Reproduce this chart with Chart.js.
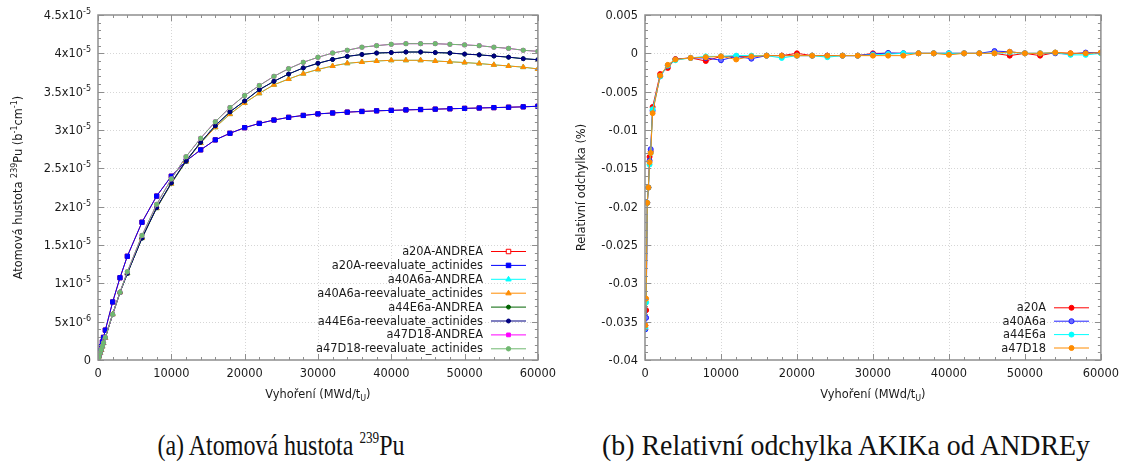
<!DOCTYPE html>
<html>
<head>
<meta charset="utf-8">
<script src="https://cdn.jsdelivr.net/npm/chart.js@4.4.0/dist/chart.umd.min.js"></script>
<style>
  html, body { margin: 0; padding: 0; background: #fff; }
  body { width: 1126px; height: 463px; position: relative; overflow: hidden; }
  .panel { position: absolute; top: 0; width: 563px; height: 410px; }
  .caption { position: absolute; top: 428px; font-family: 'Liberation Serif', serif; font-size: 30px; color: #111; white-space: nowrap; transform: translateX(-50%); line-height: 34px; }
  .caption sup { font-size: 0.55em; vertical-align: 0.75em; line-height: 0; }
</style>
</head>
<body>
<div class="panel" style="left:0"><canvas id="densityChart" width="563" height="410"></canvas></div>
<div class="panel" style="left:563px"><canvas id="deviationChart" width="563" height="410"></canvas></div>
<div class="caption" style="left:281px" data-w="247">(a) Atomová hustota <sup>239</sup>Pu</div>
<div class="caption" style="left:846px" data-w="488">(b) Relativní odchylka AKIKa od ANDREy</div>
<script>
// burnup points (MWd/tU)
const burnupDensity = [0, 50, 150, 300, 450, 600, 750, 1000, 2000, 3000, 4000,
  6000, 8000, 10000, 12000, 14000, 16000, 18000, 20000, 22000, 24000, 26000, 28000, 30000,
  32000, 34000, 36000, 38000, 40000, 42000, 44000, 46000, 48000, 50000, 52000, 54000,
  56000, 58000, 60000]
const burnupDeviation = [50, 150, 300, 450, 600, 750, 1000, 2000, 3000, 4000,
  6000, 8000, 10000, 12000, 14000, 16000, 18000, 20000, 22000, 24000, 26000, 28000, 30000,
  32000, 34000, 36000, 38000, 40000, 42000, 44000, 46000, 48000, 50000, 52000, 54000,
  56000, 58000, 60000]

// Pu-239 density, in units of 1e-5 b^-1 cm^-1
const a20A_reeval = [0, 0.02, 0.06, 0.12, 0.175, 0.235, 0.295, 0.39, 0.757, 1.073, 1.353,
  1.797, 2.138, 2.397, 2.595, 2.741, 2.871, 2.957, 3.03, 3.086, 3.13, 3.165, 3.19, 3.21,
  3.222, 3.233, 3.242, 3.25, 3.256, 3.262, 3.267, 3.272, 3.277, 3.282, 3.287, 3.292,
  3.297, 3.302, 3.31]
const a40A6a_reeval = [0, 0.015, 0.045, 0.09, 0.13, 0.175, 0.22, 0.29, 0.596, 0.883, 1.13,
  1.59, 1.98, 2.30, 2.59, 2.83, 3.035, 3.207, 3.353, 3.478, 3.59, 3.665, 3.735, 3.79,
  3.835, 3.87, 3.887, 3.90, 3.909, 3.909, 3.909, 3.90, 3.89, 3.88, 3.867, 3.85,
  3.835, 3.82, 3.796]
const a44E6a_reeval = [0, 0.015, 0.045, 0.09, 0.13, 0.175, 0.22, 0.29, 0.596, 0.88, 1.13,
  1.59, 1.987, 2.31, 2.595, 2.84, 3.056, 3.237, 3.379, 3.526, 3.635, 3.73, 3.81, 3.87,
  3.92, 3.96, 3.985, 4.004, 4.01, 4.017, 4.017, 4.01, 4.004, 3.99, 3.98, 3.965,
  3.95, 3.93, 3.917]
const a47D18_reeval = [0, 0.015, 0.045, 0.09, 0.135, 0.18, 0.225, 0.295, 0.596, 0.883, 1.151,
  1.625, 2.03, 2.362, 2.651, 2.892, 3.108, 3.293, 3.45, 3.58, 3.70, 3.80, 3.883, 3.948,
  4.004, 4.04, 4.08, 4.10, 4.118, 4.126, 4.126, 4.126, 4.118, 4.11, 4.10, 4.08,
  4.065, 4.04, 4.026]
// ANDREA curves lie under the reevaluated ones (difference < 0.04 %)
const a20A_andrea = a20A_reeval
const a40A6a_andrea = a40A6a_reeval
const a44E6a_andrea = a44E6a_reeval
const a47D18_andrea = a47D18_reeval

// relative deviation AKIKa vs ANDREA (%)
const dev_a20A = [-0.0355, -0.0335, -0.0195, -0.0175, -0.0135, -0.0128, -0.0070, -0.0027, -0.0019, -0.00075,
  -0.0006, -0.001, -0.0004, -0.0004, -0.0004, -0.0003, -0.0003, 0, -0.0003, -0.0003, -0.0003, -0.0003, 0,
  0, 0, 0, 0, 0, 0, 0, 0, -0.0003, 0, -0.0003, 0.0001, 0, 0, 0.0001]
const dev_a40A6a = [-0.0360, -0.0345, -0.0195, -0.0175, -0.0140, -0.0125, -0.0075, -0.0030, -0.0016, -0.0008,
  -0.0006, -0.0006, -0.0009, -0.0004, -0.0007, -0.0003, -0.0003, -0.0003, -0.0003, -0.0003, -0.0003, -0.0003, -0.0001,
  0.00005, 0, 0, 0, 0, 0, 0, 0.0003, 0.0002, 0, 0, 0, -0.0001, 0.0001, 0.0001]
const dev_a44E6a = [-0.0358, -0.0325, -0.0195, -0.0175, -0.0145, -0.0130, -0.0073, -0.0030, -0.0016, -0.0009,
  -0.0006, -0.0004, -0.0004, -0.0003, -0.0003, -0.0003, -0.0006, -0.0003, -0.0003, -0.0005, -0.0003, -0.0003, -0.0002,
  -0.0001, 0, 0, 0, 0, 0, 0, 0, 0.0001, 0, 0, 0.0001, -0.0002, -0.0002, 0]
const dev_a47D18 = [-0.0355, -0.0320, -0.0195, -0.0175, -0.0142, -0.0130, -0.0078, -0.0029, -0.0015, -0.0008,
  -0.0006, -0.0005, -0.0004, -0.0008, -0.0004, -0.0003, -0.0003, -0.0003, -0.0003, -0.0003, -0.0003, -0.0003, -0.0003,
  -0.0003, -0.0003, 0, 0, -0.0002, 0, 0, 0, 0.0002, 0, 0, 0.0001, 0, 0, 0.0001]

// ticks (^{..} marks a superscript)
const burnupTicks = [0, 10000, 20000, 30000, 40000, 50000, 60000]
const burnupTickLabels = ['0', '10000', '20000', '30000', '40000', '50000', '60000']
const densityTicks = [0, 0.5, 1, 1.5, 2, 2.5, 3, 3.5, 4, 4.5]
const densityTickLabels = ['0', '5x10^{-6}', '1x10^{-5}', '1.5x10^{-5}', '2x10^{-5}', '2.5x10^{-5}',
  '3x10^{-5}', '3.5x10^{-5}', '4x10^{-5}', '4.5x10^{-5}']
const deviationTicks = [-0.04, -0.035, -0.03, -0.025, -0.02, -0.015, -0.01, -0.005, 0, 0.005]
const deviationTickLabels = ['-0.04', '-0.035', '-0.03', '-0.025', '-0.02', '-0.015', '-0.01', '-0.005', '0', '0.005']

Chart.defaults.font.family = 'DejaVu Sans'
Chart.defaults.font.size = 11.4
Chart.defaults.color = '#1a1a1a'

const FONT = '11.4px "DejaVu Sans"'
const SMALL = '8px "DejaVu Sans"'
const FRAME = '#8e8e8e'

// y tick values/labels per canvas, read by the frame plugin
const yAxisInfo = {}

// split "a^{b}c_{d}" into plain / sup / sub runs
function parseRich(str) {
  const parts = []
  const re = /([\^_])\{([^}]*)\}/g
  let last = 0, m
  while ((m = re.exec(str))) {
    if (m.index > last) parts.push({ t: str.slice(last, m.index), k: '' })
    parts.push({ t: m[2], k: m[1] })
    last = re.lastIndex
  }
  if (last < str.length) parts.push({ t: str.slice(last), k: '' })
  return parts
}

function drawRich(ctx, str, x, y, align) {
  const parts = parseRich(str)
  let w = 0
  parts.forEach(p => { ctx.font = p.k ? SMALL : FONT; p.w = ctx.measureText(p.t).width; w += p.w })
  let cx = align === 'right' ? x - w : align === 'center' ? x - w / 2 : x
  ctx.textAlign = 'left'
  ctx.textBaseline = 'alphabetic'
  parts.forEach(p => {
    ctx.font = p.k ? SMALL : FONT
    const dy = p.k === '^' ? -5 : p.k === '_' ? 3 : 0
    ctx.fillText(p.t, cx, y + dy)
    cx += p.w
  })
}

// legend marker, same shape as the dataset's points
function drawMarker(ctx, ds, x, y) {
  const r = ds.pointRadius
  ctx.save()
  ctx.fillStyle = ds.pointBackgroundColor
  ctx.strokeStyle = ds.pointBorderColor
  ctx.lineWidth = 1
  ctx.beginPath()
  if (ds.pointStyle === 'rect') {
    const h = r * 0.75
    ctx.rect(x - h, y - h, 2 * h, 2 * h)
  } else if (ds.pointStyle === 'triangle') {
    ctx.moveTo(x, y - r)
    ctx.lineTo(x + r * 0.9, y + r * 0.55)
    ctx.lineTo(x - r * 0.9, y + r * 0.55)
    ctx.closePath()
  } else {
    ctx.arc(x, y, r, 0, Math.PI * 2)
  }
  ctx.fill()
  ctx.stroke()
  ctx.restore()
}

// gnuplot-like frame, inward tics, dotted grid, labels, titles and legend
const gnuplotFrame = {
  id: 'gnuplotFrame',
  beforeDatasetsDraw(chart, args, o) {
    const { ctx, chartArea: a, scales: { x, y } } = chart
    ctx.save()
    ctx.strokeStyle = '#d6d6d6'
    ctx.lineWidth = 1
    ctx.setLineDash([1, 2])
    ctx.beginPath()
    x.ticks.forEach(t => {
      const px = Math.round(x.getPixelForValue(t.value)) + 0.5
      if (px > a.left + 2 && px < a.right - 2) { ctx.moveTo(px, a.top); ctx.lineTo(px, a.bottom) }
    })
    y.ticks.forEach(t => {
      const py = Math.round(y.getPixelForValue(t.value)) + 0.5
      if (py > a.top + 2 && py < a.bottom - 2) { ctx.moveTo(a.left, py); ctx.lineTo(a.right, py) }
    })
    ctx.stroke()
    ctx.restore()
  },
  afterDraw(chart, args, o) {
    const { ctx, chartArea: a, scales: { x, y } } = chart
    const info = yAxisInfo[chart.canvas.id]
    ctx.save()
    ctx.strokeStyle = FRAME
    ctx.lineWidth = 1
    ctx.beginPath()
    const nx = Math.round((x.max - x.min) / info.xMinor)
    for (let i = 0; i <= nx; i++) {
      const px = Math.round(x.getPixelForValue(x.min + i * info.xMinor)) + 0.5
      const len = i % 5 === 0 ? 6 : 3
      ctx.moveTo(px, a.bottom); ctx.lineTo(px, a.bottom - len)
      ctx.moveTo(px, a.top); ctx.lineTo(px, a.top + len)
    }
    const ny = Math.round((y.max - y.min) / info.yMinor)
    for (let i = 0; i <= ny; i++) {
      const py = Math.round(y.getPixelForValue(y.min + i * info.yMinor)) + 0.5
      const len = i % 5 === 0 ? 6 : 3
      ctx.moveTo(a.left, py); ctx.lineTo(a.left + len, py)
      ctx.moveTo(a.right, py); ctx.lineTo(a.right - len, py)
    }
    ctx.stroke()
    ctx.lineWidth = 1.5
    ctx.strokeRect(a.left, a.top, a.right - a.left, a.bottom - a.top)

    ctx.fillStyle = '#1a1a1a'
    // y tick labels
    info.ticks.forEach((v, i) => {
      drawRich(ctx, info.labels[i], a.left - 7, y.getPixelForValue(v) + 4, 'right')
    })
    // axis titles
    drawRich(ctx, 'Vyhoření (MWd/t_{U})', (a.left + a.right) / 2, 398, 'center')
    ctx.save()
    ctx.translate(18, (a.top + a.bottom) / 2)
    ctx.rotate(-Math.PI / 2)
    drawRich(ctx, info.title, 0, 4, 'center')
    ctx.restore()

    // legend from the datasets themselves
    chart.data.datasets.forEach((ds, i) => {
      const ly = info.legendY + i * info.legendDy
      const lr = 483
      ctx.fillStyle = '#1a1a1a'
      drawRich(ctx, ds.label, lr, ly + 4, 'right')
      ctx.strokeStyle = ds.borderColor
      ctx.lineWidth = 1
      ctx.beginPath()
      ctx.moveTo(lr + 8, ly + 0.5)
      ctx.lineTo(lr + 43, ly + 0.5)
      ctx.stroke()
      drawMarker(ctx, ds, lr + 25.5, ly + 0.5)
    })
    ctx.restore()
  }
}

function makeChart(id, xs, series, info, yMin, yMax) {
  yAxisInfo[id] = Object.assign({ xMinor: 2000 }, info)
  const n = series.length
  const datasets = series.map((s, i) => ({
    label: s.label,
    data: xs.map((x, j) => ({ x: x, y: s.data[j] })),
    borderColor: s.color,
    backgroundColor: s.fill || s.color,
    pointBackgroundColor: s.fill || s.color,
    pointBorderColor: s.color,
    borderWidth: 1,
    pointBorderWidth: 1,
    pointStyle: s.style,
    pointRadius: s.r,
    tension: 0,
    order: n - i
  }))
  return new Chart(document.getElementById(id), {
    type: 'line',
    data: { datasets: datasets },
    options: {
      responsive: false,
      animation: false,
      layout: { padding: { left: 0, right: 22, top: 15, bottom: 0 } },
      plugins: {
        legend: { display: false },
        tooltip: { enabled: false }
      },
      scales: {
        x: {
          type: 'linear', min: 0, max: 60000,
          grid: { display: false, drawTicks: false },
          border: { display: false },
          afterBuildTicks: s => { s.ticks = burnupTicks.map(v => ({ value: v })) },
          afterFit: s => { s.height = 50 },
          ticks: { padding: 7, maxRotation: 0, autoSkip: false, callback: (v, i) => burnupTickLabels[i] }
        },
        y: {
          type: 'linear', min: yMin, max: yMax,
          grid: { display: false, drawTicks: false },
          border: { display: false },
          afterBuildTicks: s => { s.ticks = info.ticks.map(v => ({ value: v })) },
          afterFit: s => { s.width = info.axisWidth },
          ticks: { display: false }
        }
      }
    },
    plugins: [gnuplotFrame]
  })
}

makeChart('densityChart', burnupDensity, [
  { label: 'a20A-ANDREA', data: a20A_andrea, color: '#ff0000', fill: '#ffffff', style: 'rect', r: 3 },
  { label: 'a20A-reevaluate_actinides', data: a20A_reeval, color: '#0000ff', style: 'rect', r: 3 },
  { label: 'a40A6a-ANDREA', data: a40A6a_andrea, color: '#00ffff', style: 'triangle', r: 3 },
  { label: 'a40A6a-reevaluate_actinides', data: a40A6a_reeval, color: '#ff8c00', style: 'triangle', r: 3 },
  { label: 'a44E6a-ANDREA', data: a44E6a_andrea, color: '#006400', style: 'circle', r: 2 },
  { label: 'a44E6a-reevaluate_actinides', data: a44E6a_reeval, color: '#000080', style: 'circle', r: 2 },
  { label: 'a47D18-ANDREA', data: a47D18_andrea, color: '#ff00ff', style: 'rect', r: 2.5 },
  { label: 'a47D18-reevaluate_actinides', data: a47D18_reeval, color: '#70b870', style: 'circle', r: 2.2 }
], {
  ticks: densityTicks, labels: densityTickLabels, axisWidth: 98, yMinor: 0.1,
  title: 'Atomová hustota ^{239}Pu (b^{-1}cm^{-1})', legendY: 251, legendDy: 13.9
}, 0, 4.5)

makeChart('deviationChart', burnupDeviation, [
  { label: 'a20A', data: dev_a20A, color: '#ff0000', style: 'circle', r: 2.5 },
  { label: 'a40A6a', data: dev_a40A6a, color: '#2020ff', fill: '#6a6aff', style: 'circle', r: 2.5 },
  { label: 'a44E6a', data: dev_a44E6a, color: '#00ffff', style: 'circle', r: 2.5 },
  { label: 'a47D18', data: dev_a47D18, color: '#ff8c00', style: 'circle', r: 2.5 }
], {
  ticks: deviationTicks, labels: deviationTickLabels, axisWidth: 82, yMinor: 0.001,
  title: 'Relativní odchylka (%)', legendY: 307.3, legendDy: 13.4
}, -0.04, 0.005)

// squeeze captions to the width they have in the figure
document.querySelectorAll('.caption').forEach(el => {
  const w = el.getBoundingClientRect().width
  el.style.transform = 'translateX(-50%) scaleX(' + (Number(el.dataset.w) / w).toFixed(3) + ')'
})
</script>
</body>
</html>
